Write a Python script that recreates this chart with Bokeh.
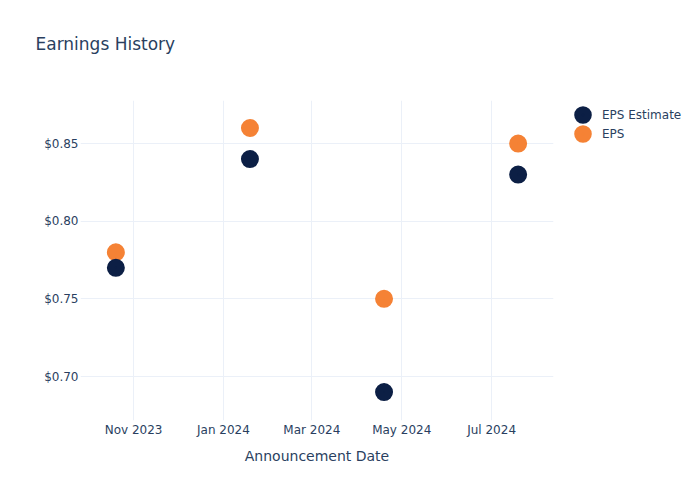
from datetime import datetime, timezone
from bokeh.plotting import figure
from bokeh.models import (ColumnDataSource, FixedTicker, NumeralTickFormatter,
                          DatetimeTickFormatter, Legend, LegendItem, Range1d, Title)
from bokeh.embed import file_html
from bokeh.resources import INLINE

dates = ["2023-10-20", "2024-01-19", "2024-04-19", "2024-07-19"]
eps_estimate = [0.77, 0.84, 0.69, 0.83]
eps_actual = [0.78, 0.86, 0.75, 0.85]
x_tick_dates = ["2023-11-01", "2024-01-01", "2024-03-01", "2024-05-01", "2024-07-01"]
y_ticks = [0.70, 0.75, 0.80, 0.85]

def ms(s):
    return datetime.strptime(s, "%Y-%m-%d").replace(tzinfo=timezone.utc).timestamp() * 1000.0

xs = [ms(d) for d in dates]
src = ColumnDataSource(dict(x=xs, est=eps_estimate, eps=eps_actual))

FONT = "DejaVu Sans"
TXT = "#2a3f5f"
GRID = "#ebf0f8"
C_EST = "#0c1f45"
C_EPS = "#f58235"

p = figure(frame_width=473, frame_height=320, output_backend="svg", toolbar_location=None,
           x_axis_type="datetime",
           x_range=Range1d(ms("2023-09-26"), ms("2024-08-12")),
           y_range=Range1d(0.6717, 0.8777),
           min_border_left=80, min_border_right=147, min_border_top=100,
           min_border_bottom=80)
p.outline_line_color = None
p.background_fill_color = "white"
p.border_fill_color = "white"

spacer = Title(text=" ", text_font=FONT, text_font_size="26px")
p.add_layout(spacer, "above")
title = Title(text="Earnings History", text_font=FONT, text_font_size="17px",
              text_color=TXT, text_font_style="normal", align="left", offset=-45)
p.add_layout(title, "above")

# size 8 + a 10px outline in the same colour gives an 18px disc, and a
# legend swatch of about the same size
r_eps = p.scatter("x", "eps", source=src, size=8, fill_color=C_EPS,
                  line_color=C_EPS, line_width=10)
r_est = p.scatter("x", "est", source=src, size=8, fill_color=C_EST,
                  line_color=C_EST, line_width=10)

p.xaxis.ticker = FixedTicker(ticks=[ms(d) for d in x_tick_dates])
p.xaxis.formatter = DatetimeTickFormatter(
    months="%b %Y", days="%b %Y", years="%b %Y", hours="%b %Y",
    minutes="%b %Y", seconds="%b %Y", milliseconds="%b %Y", minsec="%b %Y",
    hourmin="%b %Y")
p.yaxis.ticker = FixedTicker(ticks=y_ticks)
p.yaxis.formatter = NumeralTickFormatter(format="$0.00")

for ax in (p.xaxis[0], p.yaxis[0]):
    ax.axis_line_color = None
    ax.major_tick_line_color = None
    ax.minor_tick_line_color = None
    ax.major_tick_in = 0
    ax.major_tick_out = 0
    ax.minor_tick_in = 0
    ax.minor_tick_out = 0
    ax.major_label_text_font = FONT
    ax.major_label_text_font_size = "12px"
    ax.major_label_text_color = TXT
    ax.major_label_standoff = 2
    ax.axis_label_text_font = FONT
    ax.axis_label_text_color = TXT
    ax.axis_label_text_font_style = "normal"
    ax.axis_label_text_font_size = "14px"

p.xaxis.axis_label = "Announcement Date"
p.xaxis.axis_label_standoff = 8

p.xgrid.grid_line_color = GRID
p.ygrid.grid_line_color = GRID
p.xgrid.grid_line_width = 1
p.ygrid.grid_line_width = 1

legend = Legend(items=[LegendItem(label="EPS Estimate", renderers=[r_est]),
                       LegendItem(label="EPS", renderers=[r_eps])],
                location=(20, 277), border_line_color=None,
                background_fill_alpha=0, label_text_font=FONT,
                label_text_font_size="12px", label_text_color=TXT,
                glyph_width=19, glyph_height=19, label_height=19,
                spacing=0, padding=0, margin=0, label_standoff=10)
p.add_layout(legend, "right")

open("out.html", "w").write(file_html(p, INLINE))
